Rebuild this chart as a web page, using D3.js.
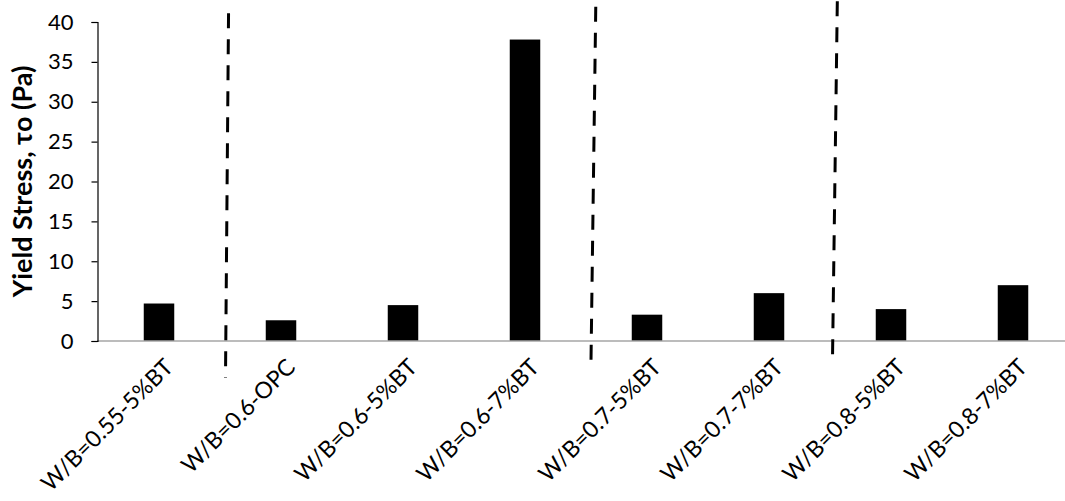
<!DOCTYPE html>
<html>
<head>
<meta charset="utf-8">
<script src="https://cdn.jsdelivr.net/npm/d3@7"></script>
<style>
  html, body { margin: 0; padding: 0; background: #fff; }
  svg { display: block; }
  text { font-family: Lato, "Noto Sans", sans-serif; fill: #000; }
</style>
</head>
<body>
<svg id="chart" width="1065" height="501"></svg>
<script>
const categories = ["W/B=0.55-5%BT", "W/B=0.6-OPC", "W/B=0.6-5%BT", "W/B=0.6-7%BT",
                    "W/B=0.7-5%BT", "W/B=0.7-7%BT", "W/B=0.8-5%BT", "W/B=0.8-7%BT"];
const yieldStress = [4.7, 2.6, 4.5, 37.8, 3.3, 6.0, 4.0, 7.0];
const yTicks = [0, 5, 10, 15, 20, 25, 30, 35, 40];
const yTitle = "Yield Stress, τo (Pa)";
// group dividers: position in category units (top, bottom) and value extent (top, bottom)
const dividerPos = [[1.07, 1.045], [4.08, 4.04], [6.06, 6.02]];
const dividerVal = [[41.1, -4.6], [41.9, -3.6], [42.6, -2.8]];

const svg = d3.select("#chart");
const plotLeft = 98, plotRight = 1074, plotTop = 22, plotBottom = 341;

const x = d3.scaleBand().domain(categories).range([plotLeft, plotRight]).padding(0);
const xu = d3.scaleLinear().domain([0, categories.length]).range([plotLeft, plotRight]);
const y = d3.scaleLinear().domain([0, 40]).range([plotBottom, plotTop]);

// bars
const barW = x.bandwidth() * 0.25;
svg.append("g").selectAll("rect").data(yieldStress).join("rect")
  .attr("x", (d, i) => x(categories[i]) + x.bandwidth() / 2 - barW / 2)
  .attr("y", d => y(d))
  .attr("width", barW)
  .attr("height", d => y(0) - y(d))
  .attr("fill", "#000");

// x axis line (gray)
svg.append("line")
  .attr("x1", plotLeft - 1).attr("x2", plotRight)
  .attr("y1", y(0)).attr("y2", y(0))
  .attr("stroke", "#a6a6a6").attr("stroke-width", 1.5);

// y axis
const yAxis = d3.axisLeft(y).tickValues(yTicks).tickSize(6).tickPadding(18).tickFormat(d3.format("d"));
const gy = svg.append("g").attr("transform", `translate(${plotLeft - 0.5},0)`).call(yAxis);
gy.select(".domain").attr("stroke", "#000").attr("stroke-width", 1.2);
gy.selectAll(".tick line").attr("stroke", "#000").attr("stroke-width", 1.2);
gy.selectAll(".tick text").attr("font-size", 22).attr("font-family", "Lato, sans-serif").attr("fill", "#000");

// x labels rotated
svg.append("g").selectAll("text").data(categories).join("text")
  .attr("transform", d => `translate(${x(d) + x.bandwidth() / 2 + 4},${y(0) + 16}) rotate(-45)`)
  .attr("text-anchor", "end")
  .attr("dy", "0.72em")
  .attr("font-size", 23)
  .text(d => d);

// y title
svg.append("text")
  .attr("transform", `translate(32,181.5) rotate(-90)`)
  .attr("text-anchor", "middle")
  .attr("font-size", 27)
  .attr("font-weight", "bold")
  .text(yTitle);

// dashed dividers
svg.append("g").selectAll("line").data(dividerPos).join("line")
  .attr("x1", d => xu(d[0])).attr("x2", d => xu(d[1]))
  .attr("y1", (d, i) => y(dividerVal[i][0])).attr("y2", (d, i) => y(dividerVal[i][1]))
  .attr("stroke", "#000").attr("stroke-width", 3)
  .attr("stroke-dasharray", "15,11");
</script>
</body>
</html>
